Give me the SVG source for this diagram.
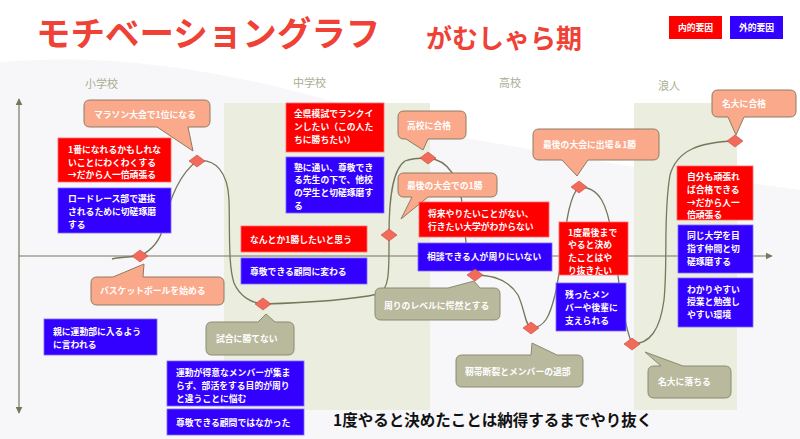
<svg xmlns="http://www.w3.org/2000/svg" width="800" height="439" viewBox="0 0 800 439">
<defs>
<style>
.t{font-family:"Noto Sans CJK JP","Noto Sans",sans-serif;font-size:8.8px;font-weight:700;fill:#fff}
.ph{font-family:"Noto Sans CJK JP","Noto Sans",sans-serif;font-size:11px;fill:#a9ae92}
.red{fill:#ff0000;stroke:#ff6a6a;stroke-width:0.8}
.blue{fill:#3300ff;stroke:#7a6cff;stroke-width:0.8}
.sal{fill:#fba98b;stroke:#8f7a62;stroke-width:1}
.gry{fill:#b9b99d;stroke:#8b8b70;stroke-width:1}
.dia{fill:#f26a5a;stroke:#c24a3a;stroke-width:0.6}
.ax{stroke:#77775c;stroke-width:1.2;fill:none}
.cv{stroke:#77775c;stroke-width:1.3;fill:none}
.panel{fill:#ebeddf}
</style>
<marker id="arr" viewBox="0 0 10 10" refX="9" refY="5" markerWidth="7" markerHeight="7" orient="auto-start-reverse" markerUnits="userSpaceOnUse">
<path d="M0,0 L10,5 L0,10 Z" fill="#77775c"/>
</marker>
</defs>
<rect x="0" y="0" width="800" height="439" fill="#ffffff"/>
<path d="M0,62 C120,52 250,70 430,132 L640,168 L800,190 L800,439 L0,439 Z" fill="#f7f7f9"/>
<rect class="panel" x="224" y="103" width="206" height="307"/>
<rect class="panel" x="634" y="103" width="103" height="307"/>

<g id="title">
<text x="36" y="46" font-family="'Noto Sans CJK JP',sans-serif" font-size="34.5" font-weight="700" fill="#ef4136">モチベーショングラフ</text>
<text x="426" y="48" font-family="'Noto Sans CJK JP',sans-serif" font-size="26" font-weight="700" fill="#ef4136">がむしゃら期</text>
</g>
<g id="legend">
<rect x="669" y="16" width="53" height="23" fill="#ff0000"/>
<text class="t" x="695.5" y="31" text-anchor="middle">内的要因</text>
<rect x="730" y="16" width="53" height="23" fill="#3300ff"/>
<text class="t" x="756.5" y="31" text-anchor="middle">外的要因</text>
</g>
<g id="phases">
<text class="ph" x="85" y="88">小学校</text>
<text class="ph" x="293" y="87">中学校</text>
<text class="ph" x="499" y="87">高校</text>
<text class="ph" x="658" y="90">浪人</text>
</g>

<g id="connectors">
<line class="ax" x1="19" y1="256" x2="19" y2="99" marker-end="url(#arr)"/>
<line class="ax" x1="19" y1="256" x2="19" y2="413" marker-end="url(#arr)"/>
<line class="ax" x1="19" y1="256" x2="772" y2="256" marker-end="url(#arr)"/>
<path class="cv" d="M112,259 C120,257 130,257 140,256 C152,250 160,240 163,228 C168,205 178,175 197,161 C215,158 228,172 229,200 C230,230 228,265 234,283 C240,297 252,303 263,304 C300,303 350,300 378,294 C390,290 389,270 389,235 C389,200 392,170 405,161 C412,158 420,158 428,158 C450,160 460,180 463,210 C466,240 466,262 475,275 C495,275 510,282 518,295 C525,310 525,325 531,328 C545,328 550,315 555,295 C565,250 565,200 579,187 C600,187 607,205 612,235 C618,270 622,320 632,344 C650,344 660,330 664,300 C668,260 663,215 670,175 C677,150 700,142 735,141"/>
</g>

<g id="n1"><path class="sal" d="M90,100 H204 Q210,100 210,106 V121 Q210,127 204,127 H188 L193,151 L157,127 H90 Q84,127 84,121 V106 Q84,100 90,100 Z"/><text class="t" x="94" y="117.5">マラソン大会で1位になる</text></g>
<g id="n2"><rect class="red" x="58" y="138" width="113" height="44"/><text class="t" y="152.7"><tspan x="68">1番になれるかもしれな</tspan><tspan x="68" dy="12.8">いことにわくわくする</tspan><tspan x="68" dy="12.8">→だから人一倍頑張る</tspan></text></g>
<g id="n3"><rect class="blue" x="58" y="188" width="113" height="45"/><text class="t" y="202.4"><tspan x="68">ロードレース部で選抜</tspan><tspan x="68" dy="12.8">されるために切磋琢磨</tspan><tspan x="68" dy="12.8">する</tspan></text></g>
<g id="n4"><path class="sal" d="M97,277 H113 L144,264 L143,277 H218 Q224,277 224,283 V299 Q224,305 218,305 H97 Q91,305 91,299 V283 Q91,277 97,277 Z"/><text class="t" x="100" y="294">バスケットボールを始める</text></g>
<g id="n5"><rect class="blue" x="44" y="319" width="113" height="36"/><text class="t" y="334.5"><tspan x="53">親に運動部に入るよう</tspan><tspan x="53" dy="13">に言われる</tspan></text></g>
<g id="n6"><path class="gry" d="M212,322 H258 L266,314 L275,322 H288 Q294,322 294,328 V349 Q294,355 288,355 H212 Q206,355 206,349 V328 Q206,322 212,322 Z"/><text class="t" x="216" y="342">試合に勝てない</text></g>
<g id="n7"><rect class="blue" x="167" y="361" width="137" height="45"/><text class="t" y="376.2"><tspan x="176">運動が得意なメンバーが集ま</tspan><tspan x="176" dy="12.8">らず、部活をする目的が周り</tspan><tspan x="176" dy="12.8">と違うことに悩む</tspan></text></g>
<g id="n8"><rect class="blue" x="167" y="409" width="137" height="26"/><text class="t" x="176" y="426">尊敬できる顧問ではなかった</text></g>
<g id="n9"><rect class="red" x="286" y="103" width="98" height="49"/><text class="t" y="117.4"><tspan x="294">全県模試でランクイ</tspan><tspan x="294" dy="12.8">ンしたい（この人た</tspan><tspan x="294" dy="12.8">ちに勝ちたい）</tspan></text></g>
<g id="n10"><rect class="blue" x="286" y="157" width="98" height="56"/><text class="t" y="170.5"><tspan x="294">塾に通い、尊敬でき</tspan><tspan x="294" dy="12.8">る先生の下で、他校</tspan><tspan x="294" dy="12.8">の学生と切磋琢磨す</tspan><tspan x="294" dy="12.8">る</tspan></text></g>
<g id="n11"><rect class="red" x="241" y="226" width="126" height="26"/><text class="t" x="250" y="242.5">なんとか1勝したいと思う</text></g>
<g id="n12"><rect class="blue" x="241" y="258" width="126" height="26"/><text class="t" x="250" y="275">尊敬できる顧問に変わる</text></g>
<g id="n13"><path class="sal" d="M404,111 H460 Q466,111 466,117 V133 Q466,139 460,139 H428 L423,150 L406,139 H404 Q398,139 398,133 V117 Q398,111 404,111 Z"/><text class="t" x="407" y="128.5">高校に合格</text></g>
<g id="n14"><path class="sal" d="M404,173 H491 Q497,173 497,179 V191 Q497,197 491,197 H428 L401,219 L412,197 H404 Q398,197 398,191 V179 Q398,173 404,173 Z"/><text class="t" x="407" y="189">最後の大会での1勝</text></g>
<g id="n15"><rect class="red" x="419" y="202" width="130" height="35"/><text class="t" y="216.8"><tspan x="428">将来やりたいことがない、</tspan><tspan x="428" dy="13">行きたい大学がわからない</tspan></text></g>
<g id="n16"><rect class="blue" x="418" y="243" width="134" height="28"/><text class="t" x="427" y="259.5">相談できる人が周りにいない</text></g>
<g id="n17"><path class="gry" d="M381,288 H448 L474,281 L480,288 H494 Q500,288 500,294 V314 Q500,320 494,320 H381 Q375,320 375,314 V294 Q375,288 381,288 Z"/><text class="t" x="384" y="308.5">周りのレベルに愕然とする</text></g>
<g id="n18"><path class="gry" d="M462,355 H531 L532,343 L557,355 H577 Q583,355 583,361 V381 Q583,387 577,387 H462 Q456,387 456,381 V361 Q456,355 462,355 Z"/><text class="t" x="465" y="374.5">靭帯断裂とメンバーの退部</text></g>
<g id="n19"><path class="sal" d="M539,129 H653 Q659,129 659,135 V154 Q659,160 653,160 H588 L577,176 L562,160 H539 Q533,160 533,154 V135 Q533,129 539,129 Z"/><text class="t" x="543" y="147.5">最後の大会に出場＆1勝</text></g>
<g id="n20"><rect class="red" x="559" y="222" width="69" height="53"/><text class="t" y="235.5"><tspan x="568">1度最後まで</tspan><tspan x="568" dy="12.8">やると決め</tspan><tspan x="568" dy="12.8">たことはや</tspan><tspan x="568" dy="12.8">り抜きたい</tspan></text></g>
<g id="n21"><rect class="blue" x="556" y="283" width="70" height="48"/><text class="t" y="298"><tspan x="565">残ったメン</tspan><tspan x="565" dy="12.8">バーや後輩に</tspan><tspan x="565" dy="12.8">支えられる</tspan></text></g>
<g id="n22"><path class="gry" d="M654,366 H661 L645,352 L683,366 H725 Q731,366 731,372 V392 Q731,398 725,398 H654 Q648,398 648,392 V372 Q648,366 654,366 Z"/><text class="t" x="658" y="385">名大に落ちる</text></g>
<g id="n23"><path class="sal" d="M718,90 H790 Q796,90 796,96 V111 Q796,117 790,117 H744 L736,135 L728,117 H718 Q712,117 712,111 V96 Q712,90 718,90 Z"/><text class="t" x="722" y="107">名大に合格</text></g>
<g id="n24"><rect class="red" x="677" y="166" width="76" height="54"/><text class="t" y="180"><tspan x="687">自分も頑張れ</tspan><tspan x="687" dy="12.8">ば合格できる</tspan><tspan x="687" dy="12.8">→だから人一</tspan><tspan x="687" dy="12.8">倍頑張る</tspan></text></g>
<g id="n25"><rect class="blue" x="678" y="225" width="75" height="48"/><text class="t" y="239.2"><tspan x="687">同じ大学を目</tspan><tspan x="687" dy="12.8">指す仲間と切</tspan><tspan x="687" dy="12.8">磋琢磨する</tspan></text></g>
<g id="n26"><rect class="blue" x="678" y="278" width="75" height="49"/><text class="t" y="292.5"><tspan x="687">わかりやすい</tspan><tspan x="687" dy="12.8">授業と勉強し</tspan><tspan x="687" dy="12.8">やすい環境</tspan></text></g>

<g id="points">
<path class="dia" d="M140,250 L148,256 L140,262 L132,256 Z"/>
<path class="dia" d="M197,155 L205,161 L197,167 L189,161 Z"/>
<path class="dia" d="M263,298 L271,304 L263,310 L255,304 Z"/>
<path class="dia" d="M389,229 L397,235 L389,241 L381,235 Z"/>
<path class="dia" d="M428,152 L436,158 L428,164 L420,158 Z"/>
<path class="dia" d="M475,269 L483,275 L475,281 L467,275 Z"/>
<path class="dia" d="M531,322 L539,328 L531,334 L523,328 Z"/>
<path class="dia" d="M579,181 L587,187 L579,193 L571,187 Z"/>
<path class="dia" d="M632,338 L640,344 L632,350 L624,344 Z"/>
<path class="dia" d="M735,135 L743,141 L735,147 L727,141 Z"/>
</g>

<g id="footer">
<text x="333" y="426" font-family="'Noto Sans CJK JP',sans-serif" font-size="15.5" font-weight="700" fill="#111">1度やると決めたことは納得するまでやり抜く</text>
</g>
</svg>
